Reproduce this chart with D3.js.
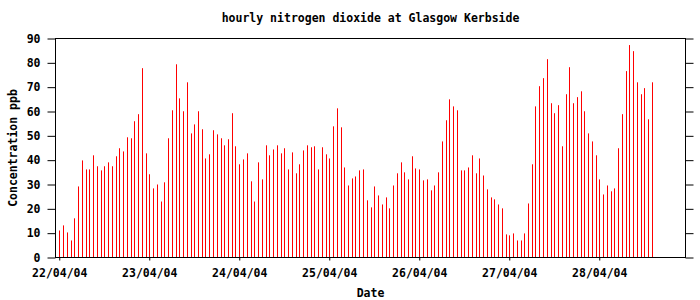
<!DOCTYPE html>
<html>
<head>
<meta charset="utf-8">
<script src="https://cdn.jsdelivr.net/npm/d3@7"></script>
<style>
  body { margin: 0; background: #fff; }
  svg text { font-family: "DejaVu Sans Mono", monospace; font-weight: bold; font-size: 11.5px; fill: #000; }
</style>
</head>
<body>
<div id="content"></div>
<script>
// hourly NO2 readings (ppb), starting 22/04/04 00:00
let startTime = new Date(2004, 3, 22, 0);
let no2 = [
  11.1, 13.2, 10.3, 7.0, 16.1, 29.2, 39.9, 36.2, 36.2, 42.0,
  37.5, 35.8, 37.5, 39.1, 37.5, 41.6, 44.9, 43.6, 49.4, 49.0,
  56.0, 58.9, 77.8, 42.8, 34.2, 28.4, 30.0, 23.0, 30.9, 49.0,
  60.5, 79.4, 65.4, 60.1, 72.0, 51.0, 54.7, 60.1, 52.7, 40.7,
  42.4, 52.3, 50.6, 49.0, 46.1, 48.6, 59.3, 45.7, 38.3, 40.3,
  42.8, 31.3, 23.0, 39.1, 32.1, 46.1, 42.0, 44.4, 46.1, 42.8,
  44.9, 36.2, 43.2, 34.6, 38.3, 44.0, 46.1, 45.3, 45.7, 36.2,
  45.3, 42.4, 40.7, 53.9, 61.3, 53.5, 37.0, 29.6, 32.5, 33.3,
  35.8, 36.2, 23.5, 20.6, 29.2, 25.5, 21.8, 24.7, 20.2, 29.6,
  34.6, 39.1, 35.0, 32.1, 41.6, 36.6, 36.2, 31.7, 32.1, 27.6,
  29.6, 35.0, 47.7, 56.4, 65.0, 62.1, 60.5, 35.8, 35.8, 37.0,
  42.0, 34.6, 40.7, 33.7, 28.0, 24.7, 23.9, 21.8, 20.2, 9.5,
  9.1, 9.9, 7.0, 7.0, 9.9, 22.2, 38.3, 62.1, 70.4, 73.7,
  81.5, 63.4, 59.3, 62.6, 45.7, 67.1, 78.2, 63.4, 65.9, 68.3,
  60.1, 51.0, 47.7, 42.0, 32.1, 25.9, 29.6, 27.2, 28.4, 44.9,
  58.9, 76.6, 87.3, 84.8, 72.0, 67.1, 69.6, 56.8, 72.0
];
let yTicks = [0, 10, 20, 30, 40, 50, 60, 70, 80, 90];
let dayTicks = [22, 23, 24, 25, 26, 27, 28].map((d) => new Date(2004, 3, d));

let width = 700;
let height = 300;
let margin = {top: 38.5, right: 14.5, bottom: 42.5, left: 55.5};

let svg = d3.select("#content").append("svg")
    .attr("width", width)
    .attr("height", height);

let x = d3.scaleTime()
    .domain([new Date(2004, 3, 21, 23), new Date(2004, 3, 28, 23)])
    .range([margin.left, width - margin.right]);

let y = d3.scaleLinear()
    .domain([0, 90])
    .range([height - margin.bottom, margin.top]);

let readings = no2.map((v, i) => ({
    time: d3.timeHour.offset(startTime, i),
    value: v
}));

// impulses
svg.append("g")
    .selectAll("line")
    .data(readings)
    .enter().append("line")
    .attr("x1", (d) => Math.round(x(d.time)) + 0.5)
    .attr("x2", (d) => Math.round(x(d.time)) + 0.5)
    .attr("y1", y(0))
    .attr("y2", (d) => y(d.value))
    .attr("stroke", "#ff0000")
    .attr("stroke-width", 1);

//left axis
svg.append("g")
    .attr("transform", "translate(" + margin.left + ",0)")
    .call(d3.axisLeft(y).tickValues(yTicks).tickSize(8).tickPadding(7).tickSizeOuter(0))
    .call((g) => g.select(".domain").remove())
    .call((g) => g.selectAll("text").style("font-family", null).style("font-size", null).attr("font-size", null).attr("font-family", null));

//right axis, ticks only
svg.append("g")
    .attr("transform", "translate(" + (width - margin.right) + ",0)")
    .call(d3.axisRight(y).tickValues(yTicks).tickSize(8).tickFormat(""))
    .call((g) => g.select(".domain").remove());

//bottom axis
svg.append("g")
    .attr("transform", "translate(0," + (height - margin.bottom) + ")")
    .call(d3.axisBottom(x).tickValues(dayTicks).tickFormat(d3.timeFormat("%d/%m/%y")).tickSize(3).tickPadding(8))
    .call((g) => g.select(".domain").remove())
    .call((g) => g.selectAll("text").attr("font-size", null).attr("font-family", null));

svg.selectAll(".tick line").attr("stroke", "#000");
svg.selectAll("g").attr("font-family", null).attr("font-size", null);

// frame
svg.append("rect")
    .attr("x", margin.left)
    .attr("y", margin.top)
    .attr("width", width - margin.left - margin.right)
    .attr("height", height - margin.top - margin.bottom)
    .attr("fill", "none")
    .attr("stroke", "#000");

svg.append("text")
    .attr("x", (margin.left + width - margin.right) / 2)
    .attr("y", 22)
    .attr("text-anchor", "middle")
    .text("hourly nitrogen dioxide at Glasgow Kerbside");

svg.append("text")
    .attr("transform", "translate(17," + ((margin.top + height - margin.bottom) / 2) + ") rotate(-90)")
    .attr("text-anchor", "middle")
    .text("Concentration ppb");

svg.append("text")
    .attr("x", (margin.left + width - margin.right) / 2)
    .attr("y", 297)
    .attr("text-anchor", "middle")
    .text("Date");
</script>
</body>
</html>
